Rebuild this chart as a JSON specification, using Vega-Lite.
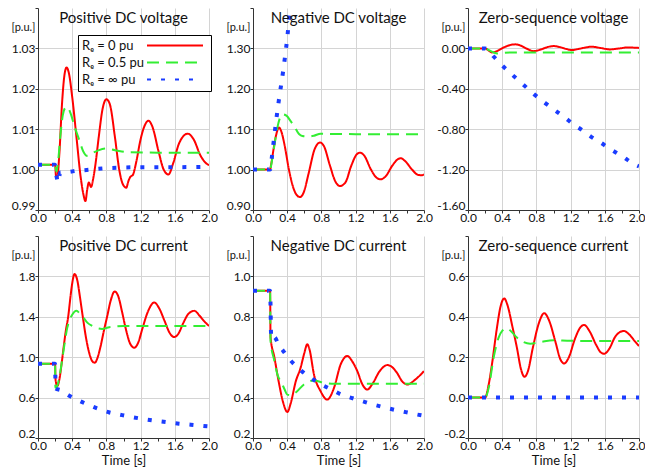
{
"$schema": "https://vega.github.io/schema/vega-lite/v6.json",
"padding": {"left": 11, "top": 7, "right": 0, "bottom": 0},
"config": {
 "font": "Lato",
 "view": {"stroke": null},
 "axis": {"domainColor": "#333333", "domainWidth": 1, "tickColor": "#333333", "tickSize": 3, "labelFontSize": 12, "labelColor": "#111111", "gridColor": "#d4d4d4", "titleFontSize": 13, "titleFontWeight": "normal", "titleColor": "#111111"},
 "axisX": {"labelPadding": -1, "labelFlush": false, "titlePadding": 3},
 "axisY": {"labelPadding": 0, "labelFlush": true, "labelFlushOffset": 2},
 "title": {"fontSize": 15, "fontWeight": "normal", "color": "#111111", "anchor": "middle", "frame": "group", "baseline": "alphabetic", "offset": -18},
 "legend": {"strokeWidth": 1}
},
"spacing": {"row": 26, "column": 44},
"bounds": "flush",
"columns": 3,
"resolve": {"scale": {"color": "independent", "strokeDash": "independent"}, "legend": {"color": "independent", "strokeDash": "independent"}},
"datasets": {"d": [
{"p":1,"Re":"0","t":0,"v":1.0012},{"p":1,"Re":"0","t":0.2,"v":1.0012},{"p":1,"Re":"0","t":0.21,"v":0.9985},{"p":1,"Re":"0","t":0.225,"v":0.998},{"p":1,"Re":"0","t":0.25,"v":1.004},{"p":1,"Re":"0","t":0.28,"v":1.016},{"p":1,"Re":"0","t":0.31,"v":1.0235},{"p":1,"Re":"0","t":0.335,"v":1.0253},{"p":1,"Re":"0","t":0.36,"v":1.024},{"p":1,"Re":"0","t":0.4,"v":1.018},{"p":1,"Re":"0","t":0.45,"v":1.008},{"p":1,"Re":"0","t":0.5,"v":0.998},{"p":1,"Re":"0","t":0.53,"v":0.994},{"p":1,"Re":"0","t":0.555,"v":0.9922},{"p":1,"Re":"0","t":0.575,"v":0.995},{"p":1,"Re":"0","t":0.594,"v":0.9968},{"p":1,"Re":"0","t":0.621,"v":0.9957},{"p":1,"Re":"0","t":0.645,"v":0.9977},{"p":1,"Re":"0","t":0.672,"v":1.0013},{"p":1,"Re":"0","t":0.71,"v":1.008},{"p":1,"Re":"0","t":0.755,"v":1.015},{"p":1,"Re":"0","t":0.8,"v":1.0174},{"p":1,"Re":"0","t":0.84,"v":1.0162},{"p":1,"Re":"0","t":0.9,"v":1.008},{"p":1,"Re":"0","t":0.95,"v":1.0},{"p":1,"Re":"0","t":0.99,"v":0.9965},{"p":1,"Re":"0","t":1.033,"v":0.9955},{"p":1,"Re":"0","t":1.055,"v":0.997},{"p":1,"Re":"0","t":1.08,"v":0.9982},{"p":1,"Re":"0","t":1.11,"v":0.9987},{"p":1,"Re":"0","t":1.15,"v":1.002},{"p":1,"Re":"0","t":1.196,"v":1.0071},{"p":1,"Re":"0","t":1.24,"v":1.0105},{"p":1,"Re":"0","t":1.293,"v":1.0121},{"p":1,"Re":"0","t":1.34,"v":1.0105},{"p":1,"Re":"0","t":1.41,"v":1.0045},{"p":1,"Re":"0","t":1.47,"v":1.0},{"p":1,"Re":"0","t":1.526,"v":0.9988},{"p":1,"Re":"0","t":1.58,"v":1.0015},{"p":1,"Re":"0","t":1.65,"v":1.0065},{"p":1,"Re":"0","t":1.751,"v":1.0089},{"p":1,"Re":"0","t":1.82,"v":1.0075},{"p":1,"Re":"0","t":1.9,"v":1.0035},{"p":1,"Re":"0","t":1.96,"v":1.0017},{"p":1,"Re":"0","t":2.0,"v":1.0011},
{"p":1,"Re":"0.5","t":0,"v":1.0012},{"p":1,"Re":"0.5","t":0.2,"v":1.0012},{"p":1,"Re":"0.5","t":0.215,"v":0.9995},{"p":1,"Re":"0.5","t":0.235,"v":1.002},{"p":1,"Re":"0.5","t":0.26,"v":1.008},{"p":1,"Re":"0.5","t":0.29,"v":1.0135},{"p":1,"Re":"0.5","t":0.32,"v":1.0153},{"p":1,"Re":"0.5","t":0.345,"v":1.0155},{"p":1,"Re":"0.5","t":0.38,"v":1.014},{"p":1,"Re":"0.5","t":0.43,"v":1.0105},{"p":1,"Re":"0.5","t":0.48,"v":1.0075},{"p":1,"Re":"0.5","t":0.53,"v":1.0045},{"p":1,"Re":"0.5","t":0.575,"v":1.0034},{"p":1,"Re":"0.5","t":0.63,"v":1.004},{"p":1,"Re":"0.5","t":0.7,"v":1.0047},{"p":1,"Re":"0.5","t":0.79,"v":1.0052},{"p":1,"Re":"0.5","t":0.9,"v":1.0048},{"p":1,"Re":"0.5","t":1.05,"v":1.0043},{"p":1,"Re":"0.5","t":1.4,"v":1.0042},{"p":1,"Re":"0.5","t":2.0,"v":1.0042},
{"p":1,"Re":"∞","t":0,"v":1.0012},{"p":1,"Re":"∞","t":0.2,"v":1.0012},{"p":1,"Re":"∞","t":0.205,"v":0.9993},{"p":1,"Re":"∞","t":0.215,"v":0.9985},{"p":1,"Re":"∞","t":0.235,"v":0.9968},{"p":1,"Re":"∞","t":0.26,"v":0.9993},{"p":1,"Re":"∞","t":0.35,"v":0.9994},{"p":1,"Re":"∞","t":0.45,"v":0.9997},{"p":1,"Re":"∞","t":0.57,"v":0.9999},{"p":1,"Re":"∞","t":0.7,"v":1.0002},{"p":1,"Re":"∞","t":0.97,"v":1.0005},{"p":1,"Re":"∞","t":1.2,"v":1.0006},{"p":1,"Re":"∞","t":1.6,"v":1.0006},{"p":1,"Re":"∞","t":2.0,"v":1.0007},
{"p":2,"Re":"0","t":0,"v":1.0},{"p":2,"Re":"0","t":0.2,"v":1.0},{"p":2,"Re":"0","t":0.21,"v":1.01},{"p":2,"Re":"0","t":0.24,"v":1.05},{"p":2,"Re":"0","t":0.27,"v":1.085},{"p":2,"Re":"0","t":0.304,"v":1.104},{"p":2,"Re":"0","t":0.33,"v":1.095},{"p":2,"Re":"0","t":0.37,"v":1.06},{"p":2,"Re":"0","t":0.42,"v":1.0},{"p":2,"Re":"0","t":0.48,"v":0.95},{"p":2,"Re":"0","t":0.52,"v":0.935},{"p":2,"Re":"0","t":0.55,"v":0.932},{"p":2,"Re":"0","t":0.59,"v":0.942},{"p":2,"Re":"0","t":0.65,"v":0.99},{"p":2,"Re":"0","t":0.72,"v":1.05},{"p":2,"Re":"0","t":0.784,"v":1.067},{"p":2,"Re":"0","t":0.83,"v":1.058},{"p":2,"Re":"0","t":0.9,"v":1.01},{"p":2,"Re":"0","t":0.96,"v":0.972},{"p":2,"Re":"0","t":1.017,"v":0.9595},{"p":2,"Re":"0","t":1.08,"v":0.968},{"p":2,"Re":"0","t":1.15,"v":1.01},{"p":2,"Re":"0","t":1.21,"v":1.037},{"p":2,"Re":"0","t":1.251,"v":1.042},{"p":2,"Re":"0","t":1.3,"v":1.035},{"p":2,"Re":"0","t":1.38,"v":1.0},{"p":2,"Re":"0","t":1.44,"v":0.981},{"p":2,"Re":"0","t":1.493,"v":0.976},{"p":2,"Re":"0","t":1.55,"v":0.983},{"p":2,"Re":"0","t":1.63,"v":1.01},{"p":2,"Re":"0","t":1.69,"v":1.025},{"p":2,"Re":"0","t":1.727,"v":1.028},{"p":2,"Re":"0","t":1.78,"v":1.021},{"p":2,"Re":"0","t":1.86,"v":1.0},{"p":2,"Re":"0","t":1.93,"v":0.987},{"p":2,"Re":"0","t":1.97,"v":0.986},{"p":2,"Re":"0","t":2.0,"v":0.988},
{"p":2,"Re":"0.5","t":0,"v":1.0},{"p":2,"Re":"0.5","t":0.2,"v":1.0},{"p":2,"Re":"0.5","t":0.22,"v":1.02},{"p":2,"Re":"0.5","t":0.25,"v":1.06},{"p":2,"Re":"0.5","t":0.285,"v":1.104},{"p":2,"Re":"0.5","t":0.31,"v":1.125},{"p":2,"Re":"0.5","t":0.343,"v":1.137},{"p":2,"Re":"0.5","t":0.394,"v":1.133},{"p":2,"Re":"0.5","t":0.44,"v":1.12},{"p":2,"Re":"0.5","t":0.48,"v":1.108},{"p":2,"Re":"0.5","t":0.538,"v":1.088},{"p":2,"Re":"0.5","t":0.577,"v":1.083},{"p":2,"Re":"0.5","t":0.65,"v":1.082},{"p":2,"Re":"0.5","t":0.713,"v":1.084},{"p":2,"Re":"0.5","t":0.79,"v":1.089},{"p":2,"Re":"0.5","t":0.9,"v":1.088},{"p":2,"Re":"0.5","t":2.0,"v":1.0875},
{"p":2,"Re":"∞","t":0,"v":1.0},{"p":2,"Re":"∞","t":0.2,"v":1.0},{"p":2,"Re":"∞","t":0.22,"v":1.03},{"p":2,"Re":"∞","t":0.25,"v":1.085},{"p":2,"Re":"∞","t":0.3,"v":1.168},{"p":2,"Re":"∞","t":0.35,"v":1.24},{"p":2,"Re":"∞","t":0.4,"v":1.325},{"p":2,"Re":"∞","t":0.435,"v":1.4},{"p":2,"Re":"∞","t":0.47,"v":1.46},
{"p":3,"Re":"0","t":0,"v":0},{"p":3,"Re":"0","t":0.2,"v":0},{"p":3,"Re":"0","t":0.24,"v":-0.02},{"p":3,"Re":"0","t":0.28,"v":-0.04},{"p":3,"Re":"0","t":0.33,"v":-0.03},{"p":3,"Re":"0","t":0.42,"v":0.01},{"p":3,"Re":"0","t":0.5,"v":0.035},{"p":3,"Re":"0","t":0.553,"v":0.04},{"p":3,"Re":"0","t":0.61,"v":0.03},{"p":3,"Re":"0","t":0.68,"v":0.0},{"p":3,"Re":"0","t":0.767,"v":-0.027},{"p":3,"Re":"0","t":0.86,"v":-0.008},{"p":3,"Re":"0","t":0.93,"v":0.013},{"p":3,"Re":"0","t":1.0,"v":0.023},{"p":3,"Re":"0","t":1.08,"v":0.012},{"p":3,"Re":"0","t":1.15,"v":-0.006},{"p":3,"Re":"0","t":1.214,"v":-0.017},{"p":3,"Re":"0","t":1.3,"v":-0.004},{"p":3,"Re":"0","t":1.38,"v":0.01},{"p":3,"Re":"0","t":1.447,"v":0.017},{"p":3,"Re":"0","t":1.55,"v":0.004},{"p":3,"Re":"0","t":1.66,"v":-0.01},{"p":3,"Re":"0","t":1.77,"v":0.0},{"p":3,"Re":"0","t":1.876,"v":0.01},{"p":3,"Re":"0","t":1.95,"v":0.007},{"p":3,"Re":"0","t":2.0,"v":0.005},
{"p":3,"Re":"0.5","t":0,"v":0},{"p":3,"Re":"0.5","t":0.2,"v":0},{"p":3,"Re":"0.5","t":0.25,"v":-0.02},{"p":3,"Re":"0.5","t":0.3,"v":-0.04},{"p":3,"Re":"0.5","t":0.34,"v":-0.05},{"p":3,"Re":"0.5","t":0.4,"v":-0.046},{"p":3,"Re":"0.5","t":0.5,"v":-0.04},{"p":3,"Re":"0.5","t":0.7,"v":-0.04},{"p":3,"Re":"0.5","t":2.0,"v":-0.04},
{"p":3,"Re":"∞","t":0,"v":0},{"p":3,"Re":"∞","t":0.2,"v":0},{"p":3,"Re":"∞","t":0.25,"v":-0.03},{"p":3,"Re":"∞","t":0.3,"v":-0.08},{"p":3,"Re":"∞","t":0.358,"v":-0.133},{"p":3,"Re":"∞","t":0.502,"v":-0.249},{"p":3,"Re":"∞","t":0.642,"v":-0.355},{"p":3,"Re":"∞","t":0.774,"v":-0.455},{"p":3,"Re":"∞","t":0.903,"v":-0.541},{"p":3,"Re":"∞","t":1.019,"v":-0.614},{"p":3,"Re":"∞","t":1.136,"v":-0.687},{"p":3,"Re":"∞","t":1.241,"v":-0.757},{"p":3,"Re":"∞","t":1.342,"v":-0.813},{"p":3,"Re":"∞","t":1.436,"v":-0.873},{"p":3,"Re":"∞","t":1.545,"v":-0.929},{"p":3,"Re":"∞","t":1.65,"v":-0.989},{"p":3,"Re":"∞","t":1.739,"v":-1.036},{"p":3,"Re":"∞","t":1.825,"v":-1.079},{"p":3,"Re":"∞","t":1.907,"v":-1.129},{"p":3,"Re":"∞","t":2.0,"v":-1.168},
{"p":4,"Re":"0","t":0,"v":0.935},{"p":4,"Re":"0","t":0.2,"v":0.935},{"p":4,"Re":"0","t":0.205,"v":0.78},{"p":4,"Re":"0","t":0.225,"v":0.713},{"p":4,"Re":"0","t":0.25,"v":0.78},{"p":4,"Re":"0","t":0.276,"v":0.935},{"p":4,"Re":"0","t":0.3,"v":1.1},{"p":4,"Re":"0","t":0.325,"v":1.26},{"p":4,"Re":"0","t":0.353,"v":1.4},{"p":4,"Re":"0","t":0.38,"v":1.6},{"p":4,"Re":"0","t":0.4,"v":1.73},{"p":4,"Re":"0","t":0.427,"v":1.823},{"p":4,"Re":"0","t":0.46,"v":1.76},{"p":4,"Re":"0","t":0.49,"v":1.6},{"p":4,"Re":"0","t":0.524,"v":1.4},{"p":4,"Re":"0","t":0.56,"v":1.2},{"p":4,"Re":"0","t":0.6,"v":1.04},{"p":4,"Re":"0","t":0.635,"v":0.96},{"p":4,"Re":"0","t":0.664,"v":0.945},{"p":4,"Re":"0","t":0.69,"v":0.98},{"p":4,"Re":"0","t":0.73,"v":1.1},{"p":4,"Re":"0","t":0.77,"v":1.26},{"p":4,"Re":"0","t":0.808,"v":1.4},{"p":4,"Re":"0","t":0.85,"v":1.56},{"p":4,"Re":"0","t":0.897,"v":1.651},{"p":4,"Re":"0","t":0.94,"v":1.6},{"p":4,"Re":"0","t":0.983,"v":1.45},{"p":4,"Re":"0","t":1.03,"v":1.27},{"p":4,"Re":"0","t":1.08,"v":1.13},{"p":4,"Re":"0","t":1.126,"v":1.094},{"p":4,"Re":"0","t":1.17,"v":1.14},{"p":4,"Re":"0","t":1.22,"v":1.28},{"p":4,"Re":"0","t":1.28,"v":1.44},{"p":4,"Re":"0","t":1.359,"v":1.541},{"p":4,"Re":"0","t":1.42,"v":1.48},{"p":4,"Re":"0","t":1.48,"v":1.36},{"p":4,"Re":"0","t":1.54,"v":1.24},{"p":4,"Re":"0","t":1.592,"v":1.2},{"p":4,"Re":"0","t":1.64,"v":1.23},{"p":4,"Re":"0","t":1.7,"v":1.34},{"p":4,"Re":"0","t":1.76,"v":1.43},{"p":4,"Re":"0","t":1.829,"v":1.459},{"p":4,"Re":"0","t":1.89,"v":1.41},{"p":4,"Re":"0","t":1.95,"v":1.35},{"p":4,"Re":"0","t":2.0,"v":1.31},
{"p":4,"Re":"0.5","t":0,"v":0.935},{"p":4,"Re":"0.5","t":0.2,"v":0.935},{"p":4,"Re":"0.5","t":0.203,"v":0.697},{"p":4,"Re":"0.5","t":0.215,"v":0.7},{"p":4,"Re":"0.5","t":0.245,"v":0.78},{"p":4,"Re":"0.5","t":0.28,"v":0.96},{"p":4,"Re":"0.5","t":0.31,"v":1.13},{"p":4,"Re":"0.5","t":0.342,"v":1.29},{"p":4,"Re":"0.5","t":0.37,"v":1.37},{"p":4,"Re":"0.5","t":0.4,"v":1.42},{"p":4,"Re":"0.5","t":0.45,"v":1.459},{"p":4,"Re":"0.5","t":0.49,"v":1.43},{"p":4,"Re":"0.5","t":0.536,"v":1.386},{"p":4,"Re":"0.5","t":0.58,"v":1.34},{"p":4,"Re":"0.5","t":0.633,"v":1.31},{"p":4,"Re":"0.5","t":0.7,"v":1.285},{"p":4,"Re":"0.5","t":0.75,"v":1.28},{"p":4,"Re":"0.5","t":0.82,"v":1.295},{"p":4,"Re":"0.5","t":0.905,"v":1.303},{"p":4,"Re":"0.5","t":1.0,"v":1.31},{"p":4,"Re":"0.5","t":2.0,"v":1.31},
{"p":4,"Re":"∞","t":0,"v":0.935},{"p":4,"Re":"∞","t":0.2,"v":0.935},{"p":4,"Re":"∞","t":0.203,"v":0.8},{"p":4,"Re":"∞","t":0.206,"v":0.69},{"p":4,"Re":"∞","t":0.264,"v":0.674},{"p":4,"Re":"∞","t":0.361,"v":0.621},{"p":4,"Re":"∞","t":0.47,"v":0.574},{"p":4,"Re":"∞","t":0.583,"v":0.531},{"p":4,"Re":"∞","t":0.699,"v":0.491},{"p":4,"Re":"∞","t":0.827,"v":0.455},{"p":4,"Re":"∞","t":0.955,"v":0.432},{"p":4,"Re":"∞","t":1.087,"v":0.409},{"p":4,"Re":"∞","t":1.223,"v":0.389},{"p":4,"Re":"∞","t":1.359,"v":0.372},{"p":4,"Re":"∞","t":1.507,"v":0.356},{"p":4,"Re":"∞","t":1.65,"v":0.342},{"p":4,"Re":"∞","t":1.786,"v":0.332},{"p":4,"Re":"∞","t":1.934,"v":0.319},{"p":4,"Re":"∞","t":2.0,"v":0.314},
{"p":5,"Re":"0","t":0,"v":0.929},{"p":5,"Re":"0","t":0.2,"v":0.929},{"p":5,"Re":"0","t":0.205,"v":0.7},{"p":5,"Re":"0","t":0.25,"v":0.6},{"p":5,"Re":"0","t":0.3,"v":0.48},{"p":5,"Re":"0","t":0.35,"v":0.38},{"p":5,"Re":"0","t":0.402,"v":0.329},{"p":5,"Re":"0","t":0.44,"v":0.37},{"p":5,"Re":"0","t":0.5,"v":0.48},{"p":5,"Re":"0","t":0.557,"v":0.548},{"p":5,"Re":"0","t":0.6,"v":0.62},{"p":5,"Re":"0","t":0.635,"v":0.664},{"p":5,"Re":"0","t":0.66,"v":0.64},{"p":5,"Re":"0","t":0.713,"v":0.515},{"p":5,"Re":"0","t":0.79,"v":0.432},{"p":5,"Re":"0","t":0.869,"v":0.39},{"p":5,"Re":"0","t":0.947,"v":0.448},{"p":5,"Re":"0","t":1.025,"v":0.564},{"p":5,"Re":"0","t":1.103,"v":0.606},{"p":5,"Re":"0","t":1.16,"v":0.58},{"p":5,"Re":"0","t":1.22,"v":0.531},{"p":5,"Re":"0","t":1.28,"v":0.465},{"p":5,"Re":"0","t":1.337,"v":0.44},{"p":5,"Re":"0","t":1.4,"v":0.47},{"p":5,"Re":"0","t":1.48,"v":0.53},{"p":5,"Re":"0","t":1.571,"v":0.561},{"p":5,"Re":"0","t":1.63,"v":0.55},{"p":5,"Re":"0","t":1.688,"v":0.52},{"p":5,"Re":"0","t":1.745,"v":0.48},{"p":5,"Re":"0","t":1.805,"v":0.465},{"p":5,"Re":"0","t":1.9,"v":0.49},{"p":5,"Re":"0","t":2.0,"v":0.531},
{"p":5,"Re":"0.5","t":0,"v":0.929},{"p":5,"Re":"0.5","t":0.2,"v":0.929},{"p":5,"Re":"0.5","t":0.205,"v":0.68},{"p":5,"Re":"0.5","t":0.246,"v":0.589},{"p":5,"Re":"0.5","t":0.285,"v":0.515},{"p":5,"Re":"0.5","t":0.335,"v":0.473},{"p":5,"Re":"0.5","t":0.37,"v":0.44},{"p":5,"Re":"0.5","t":0.4,"v":0.415},{"p":5,"Re":"0.5","t":0.44,"v":0.412},{"p":5,"Re":"0.5","t":0.5,"v":0.425},{"p":5,"Re":"0.5","t":0.596,"v":0.465},{"p":5,"Re":"0.5","t":0.713,"v":0.485},{"p":5,"Re":"0.5","t":0.83,"v":0.473},{"p":5,"Re":"0.5","t":0.95,"v":0.468},{"p":5,"Re":"0.5","t":2.0,"v":0.468},
{"p":5,"Re":"∞","t":0,"v":0.929},{"p":5,"Re":"∞","t":0.2,"v":0.929},{"p":5,"Re":"∞","t":0.205,"v":0.86},{"p":5,"Re":"∞","t":0.21,"v":0.73},{"p":5,"Re":"∞","t":0.215,"v":0.69},{"p":5,"Re":"∞","t":0.246,"v":0.7},{"p":5,"Re":"∞","t":0.304,"v":0.659},{"p":5,"Re":"∞","t":0.37,"v":0.622},{"p":5,"Re":"∞","t":0.44,"v":0.584},{"p":5,"Re":"∞","t":0.526,"v":0.548},{"p":5,"Re":"∞","t":0.616,"v":0.515},{"p":5,"Re":"∞","t":0.713,"v":0.487},{"p":5,"Re":"∞","t":0.811,"v":0.462},{"p":5,"Re":"∞","t":0.916,"v":0.44},{"p":5,"Re":"∞","t":1.033,"v":0.415},{"p":5,"Re":"∞","t":1.15,"v":0.399},{"p":5,"Re":"∞","t":1.279,"v":0.382},{"p":5,"Re":"∞","t":1.403,"v":0.366},{"p":5,"Re":"∞","t":1.532,"v":0.352},{"p":5,"Re":"∞","t":1.661,"v":0.339},{"p":5,"Re":"∞","t":1.786,"v":0.328},{"p":5,"Re":"∞","t":1.922,"v":0.316},{"p":5,"Re":"∞","t":2.0,"v":0.31},
{"p":6,"Re":"0","t":0,"v":0},{"p":6,"Re":"0","t":0.2,"v":0},{"p":6,"Re":"0","t":0.24,"v":0.06},{"p":6,"Re":"0","t":0.28,"v":0.164},{"p":6,"Re":"0","t":0.339,"v":0.347},{"p":6,"Re":"0","t":0.38,"v":0.45},{"p":6,"Re":"0","t":0.424,"v":0.491},{"p":6,"Re":"0","t":0.46,"v":0.46},{"p":6,"Re":"0","t":0.52,"v":0.35},{"p":6,"Re":"0","t":0.572,"v":0.247},{"p":6,"Re":"0","t":0.62,"v":0.14},{"p":6,"Re":"0","t":0.661,"v":0.103},{"p":6,"Re":"0","t":0.7,"v":0.13},{"p":6,"Re":"0","t":0.76,"v":0.25},{"p":6,"Re":"0","t":0.83,"v":0.37},{"p":6,"Re":"0","t":0.891,"v":0.418},{"p":6,"Re":"0","t":0.95,"v":0.38},{"p":6,"Re":"0","t":1.02,"v":0.28},{"p":6,"Re":"0","t":1.08,"v":0.19},{"p":6,"Re":"0","t":1.124,"v":0.169},{"p":6,"Re":"0","t":1.18,"v":0.2},{"p":6,"Re":"0","t":1.25,"v":0.29},{"p":6,"Re":"0","t":1.31,"v":0.345},{"p":6,"Re":"0","t":1.358,"v":0.36},{"p":6,"Re":"0","t":1.42,"v":0.33},{"p":6,"Re":"0","t":1.5,"v":0.26},{"p":6,"Re":"0","t":1.55,"v":0.225},{"p":6,"Re":"0","t":1.591,"v":0.217},{"p":6,"Re":"0","t":1.65,"v":0.24},{"p":6,"Re":"0","t":1.72,"v":0.3},{"p":6,"Re":"0","t":1.78,"v":0.325},{"p":6,"Re":"0","t":1.825,"v":0.33},{"p":6,"Re":"0","t":1.88,"v":0.315},{"p":6,"Re":"0","t":1.95,"v":0.28},{"p":6,"Re":"0","t":2.0,"v":0.255},
{"p":6,"Re":"0.5","t":0,"v":0},{"p":6,"Re":"0.5","t":0.2,"v":0},{"p":6,"Re":"0.5","t":0.241,"v":0.046},{"p":6,"Re":"0.5","t":0.3,"v":0.198},{"p":6,"Re":"0.5","t":0.358,"v":0.297},{"p":6,"Re":"0.5","t":0.4,"v":0.33},{"p":6,"Re":"0.5","t":0.455,"v":0.343},{"p":6,"Re":"0.5","t":0.5,"v":0.33},{"p":6,"Re":"0.5","t":0.572,"v":0.297},{"p":6,"Re":"0.5","t":0.65,"v":0.275},{"p":6,"Re":"0.5","t":0.728,"v":0.267},{"p":6,"Re":"0.5","t":0.85,"v":0.275},{"p":6,"Re":"0.5","t":1.0,"v":0.284},{"p":6,"Re":"0.5","t":1.2,"v":0.281},{"p":6,"Re":"0.5","t":2.0,"v":0.28},
{"p":6,"Re":"∞","t":0,"v":0},{"p":6,"Re":"∞","t":1.0,"v":0},{"p":6,"Re":"∞","t":2.0,"v":0}
]},
"concat": [
{"width": 171, "height": 202, "title": "Positive DC voltage", "data": {"name": "d"}, "transform": [{"filter": "datum.p == 1"}],
 "mark": {"type": "line", "interpolate": "monotone", "clip": true},
 "encoding": {
  "x": {"field": "t", "type": "quantitative", "scale": {"domain": [0, 2], "nice": false}, "axis": {"title": null, "values": [0,0.2,0.4,0.6,0.8,1,1.2,1.4,1.6,1.8,2], "labelExpr": "round(datum.value*10) % 4 == 0 ? format(datum.value, '.1f') : ''", "gridColor": {"condition": {"test": "round(datum.value*10) % 4 == 0 && datum.value > 0", "value": "#d4d4d4"}, "value": "transparent"}}},
  "y": {"field": "v", "type": "quantitative", "scale": {"domain": [0.99, 1.04], "nice": false, "zero": false}, "axis": {"title": null, "values": [0.99,1,1.01,1.02,1.03,1.04], "labelExpr": "datum.value > 1.035 ? '[p.u.]' : format(datum.value, '.2f')", "labelOffset": {"condition": {"test": "datum.value > 1.035", "value": 15}, "value": 0}, "labelFontSize": {"condition": {"test": "datum.value > 1.035", "value": 11}, "value": 12}, "gridColor": {"condition": {"test": "datum.value > 1.035", "value": "transparent"}, "value": "#d4d4d4"}}},
  "color": {"field": "Re", "type": "nominal", "scale": {"domain": ["0","0.5","∞"], "range": ["#ff0000","#33ee33","#1a3cff"]}, "legend": {"orient": "none", "legendX": 40, "legendY": 27, "title": null, "labelExpr": "'Rₑ = ' + datum.label + ' pu'", "symbolType": "M-5.6,0H5.6", "symbolSize": 100, "symbolStrokeWidth": 2, "rowPadding": 3, "labelOffset": -99.5, "symbolOffset": 86.5, "labelFontSize": 13, "labelColor": "#111111", "padding": 4, "strokeColor": "black", "fillColor": "white"}},
  "strokeDash": {"field": "Re", "type": "nominal", "scale": {"domain": ["0","0.5","∞"], "range": [[1,0],[12,7],[4,10]]}, "legend": {"orient": "none", "legendX": 40, "legendY": 27, "title": null, "labelExpr": "'Rₑ = ' + datum.label + ' pu'", "symbolType": "M-5.6,0H5.6", "symbolSize": 100, "symbolStrokeWidth": 2, "rowPadding": 3, "labelOffset": -99.5, "symbolOffset": 86.5, "labelFontSize": 13, "labelColor": "#111111", "padding": 4, "strokeColor": "black", "fillColor": "white"}},
  "strokeWidth": {"condition": {"test": "datum.Re == '∞'", "value": 4}, "value": 2}
 }},
{"width": 171, "height": 202, "title": "Negative DC voltage", "data": {"name": "d"}, "transform": [{"filter": "datum.p == 2"}],
 "mark": {"type": "line", "interpolate": "monotone", "clip": true},
 "encoding": {
  "x": {"field": "t", "type": "quantitative", "scale": {"domain": [0, 2], "nice": false}, "axis": {"title": null, "values": [0,0.2,0.4,0.6,0.8,1,1.2,1.4,1.6,1.8,2], "labelExpr": "round(datum.value*10) % 4 == 0 ? format(datum.value, '.1f') : ''", "gridColor": {"condition": {"test": "round(datum.value*10) % 4 == 0 && datum.value > 0", "value": "#d4d4d4"}, "value": "transparent"}}},
  "y": {"field": "v", "type": "quantitative", "scale": {"domain": [0.9, 1.4], "nice": false, "zero": false}, "axis": {"title": null, "values": [0.9,1,1.1,1.2,1.3,1.4], "labelExpr": "datum.value > 1.35 ? '[p.u.]' : format(datum.value, '.2f')", "labelOffset": {"condition": {"test": "datum.value > 1.35", "value": 15}, "value": 0}, "labelFontSize": {"condition": {"test": "datum.value > 1.35", "value": 11}, "value": 12}, "gridColor": {"condition": {"test": "datum.value > 1.35", "value": "transparent"}, "value": "#d4d4d4"}}},
  "color": {"field": "Re", "type": "nominal", "scale": {"domain": ["0","0.5","∞"], "range": ["#ff0000","#33ee33","#1a3cff"]}, "legend": null},
  "strokeDash": {"field": "Re", "type": "nominal", "scale": {"domain": ["0","0.5","∞"], "range": [[1,0],[12,7],[4,10]]}, "legend": null},
  "strokeWidth": {"condition": {"test": "datum.Re == '∞'", "value": 4}, "value": 2}
 }},
{"width": 171, "height": 202, "title": "Zero-sequence voltage", "data": {"name": "d"}, "transform": [{"filter": "datum.p == 3"}],
 "mark": {"type": "line", "interpolate": "monotone", "clip": true},
 "encoding": {
  "x": {"field": "t", "type": "quantitative", "scale": {"domain": [0, 2], "nice": false}, "axis": {"title": null, "values": [0,0.2,0.4,0.6,0.8,1,1.2,1.4,1.6,1.8,2], "labelExpr": "round(datum.value*10) % 4 == 0 ? format(datum.value, '.1f') : ''", "labelAlign": {"condition": {"test": "datum.value > 1.9", "value": "right"}, "value": "center"}, "labelOffset": {"condition": {"test": "datum.value > 1.9", "value": 6}, "value": 0}, "gridColor": {"condition": {"test": "round(datum.value*10) % 4 == 0 && datum.value > 0", "value": "#d4d4d4"}, "value": "transparent"}}},
  "y": {"field": "v", "type": "quantitative", "scale": {"domain": [-1.6, 0.4], "nice": false, "zero": false}, "axis": {"title": null, "values": [-1.6,-1.2,-0.8,-0.4,0,0.4], "labelExpr": "datum.value > 0.2 ? '[p.u.]' : replace(format(datum.value, '.2f'), '−', '-')", "labelOffset": {"condition": {"test": "datum.value > 0.2", "value": 15}, "value": 0}, "labelFontSize": {"condition": {"test": "datum.value > 0.2", "value": 11}, "value": 12}, "gridColor": {"condition": {"test": "datum.value > 0.2", "value": "transparent"}, "value": "#d4d4d4"}}},
  "color": {"field": "Re", "type": "nominal", "scale": {"domain": ["0","0.5","∞"], "range": ["#ff0000","#33ee33","#1a3cff"]}, "legend": null},
  "strokeDash": {"field": "Re", "type": "nominal", "scale": {"domain": ["0","0.5","∞"], "range": [[1,0],[12,7],[4,10]]}, "legend": null},
  "strokeWidth": {"condition": {"test": "datum.Re == '∞'", "value": 4}, "value": 2}
 }},
{"width": 171, "height": 202, "title": "Positive DC current", "data": {"name": "d"}, "transform": [{"filter": "datum.p == 4"}],
 "mark": {"type": "line", "interpolate": "monotone", "clip": true},
 "encoding": {
  "x": {"field": "t", "type": "quantitative", "scale": {"domain": [0, 2], "nice": false}, "axis": {"title": "Time [s]", "values": [0,0.2,0.4,0.6,0.8,1,1.2,1.4,1.6,1.8,2], "labelExpr": "round(datum.value*10) % 4 == 0 ? format(datum.value, '.1f') : ''", "gridColor": {"condition": {"test": "round(datum.value*10) % 4 == 0 && datum.value > 0", "value": "#d4d4d4"}, "value": "transparent"}}},
  "y": {"field": "v", "type": "quantitative", "scale": {"domain": [0.2, 2.2], "nice": false, "zero": false}, "axis": {"title": null, "values": [0.2,0.6,1,1.4,1.8,2.2], "labelExpr": "datum.value > 2 ? '[p.u.]' : format(datum.value, '.1f')", "labelOffset": {"condition": {"test": "datum.value > 2", "value": 15}, "value": 0}, "labelFontSize": {"condition": {"test": "datum.value > 2", "value": 11}, "value": 12}, "gridColor": {"condition": {"test": "datum.value > 2", "value": "transparent"}, "value": "#d4d4d4"}}},
  "color": {"field": "Re", "type": "nominal", "scale": {"domain": ["0","0.5","∞"], "range": ["#ff0000","#33ee33","#1a3cff"]}, "legend": null},
  "strokeDash": {"field": "Re", "type": "nominal", "scale": {"domain": ["0","0.5","∞"], "range": [[1,0],[12,7],[4,10]]}, "legend": null},
  "strokeWidth": {"condition": {"test": "datum.Re == '∞'", "value": 4}, "value": 2}
 }},
{"width": 171, "height": 202, "title": "Negative DC current", "data": {"name": "d"}, "transform": [{"filter": "datum.p == 5"}],
 "mark": {"type": "line", "interpolate": "monotone", "clip": true},
 "encoding": {
  "x": {"field": "t", "type": "quantitative", "scale": {"domain": [0, 2], "nice": false}, "axis": {"title": "Time [s]", "values": [0,0.2,0.4,0.6,0.8,1,1.2,1.4,1.6,1.8,2], "labelExpr": "round(datum.value*10) % 4 == 0 ? format(datum.value, '.1f') : ''", "gridColor": {"condition": {"test": "round(datum.value*10) % 4 == 0 && datum.value > 0", "value": "#d4d4d4"}, "value": "transparent"}}},
  "y": {"field": "v", "type": "quantitative", "scale": {"domain": [0.2, 1.2], "nice": false, "zero": false}, "axis": {"title": null, "values": [0.2,0.4,0.6,0.8,1,1.2], "labelExpr": "datum.value > 1.1 ? '[p.u.]' : format(datum.value, '.1f')", "labelOffset": {"condition": {"test": "datum.value > 1.1", "value": 15}, "value": 0}, "labelFontSize": {"condition": {"test": "datum.value > 1.1", "value": 11}, "value": 12}, "gridColor": {"condition": {"test": "datum.value > 1.1", "value": "transparent"}, "value": "#d4d4d4"}}},
  "color": {"field": "Re", "type": "nominal", "scale": {"domain": ["0","0.5","∞"], "range": ["#ff0000","#33ee33","#1a3cff"]}, "legend": null},
  "strokeDash": {"field": "Re", "type": "nominal", "scale": {"domain": ["0","0.5","∞"], "range": [[1,0],[12,7],[4,10]]}, "legend": null},
  "strokeWidth": {"condition": {"test": "datum.Re == '∞'", "value": 4}, "value": 2}
 }},
{"width": 171, "height": 202, "title": "Zero-sequence current", "data": {"name": "d"}, "transform": [{"filter": "datum.p == 6"}],
 "mark": {"type": "line", "interpolate": "monotone", "clip": true},
 "encoding": {
  "x": {"field": "t", "type": "quantitative", "scale": {"domain": [0, 2], "nice": false}, "axis": {"title": "Time [s]", "values": [0,0.2,0.4,0.6,0.8,1,1.2,1.4,1.6,1.8,2], "labelExpr": "round(datum.value*10) % 4 == 0 ? format(datum.value, '.1f') : ''", "labelAlign": {"condition": {"test": "datum.value > 1.9", "value": "right"}, "value": "center"}, "labelOffset": {"condition": {"test": "datum.value > 1.9", "value": 6}, "value": 0}, "gridColor": {"condition": {"test": "round(datum.value*10) % 4 == 0 && datum.value > 0", "value": "#d4d4d4"}, "value": "transparent"}}},
  "y": {"field": "v", "type": "quantitative", "scale": {"domain": [-0.2, 0.8], "nice": false, "zero": false}, "axis": {"title": null, "values": [-0.2,0,0.2,0.4,0.6,0.8], "labelExpr": "datum.value > 0.7 ? '[p.u.]' : replace(format(datum.value, '.1f'), '−', '-')", "labelOffset": {"condition": {"test": "datum.value > 0.7", "value": 15}, "value": 0}, "labelFontSize": {"condition": {"test": "datum.value > 0.7", "value": 11}, "value": 12}, "gridColor": {"condition": {"test": "datum.value > 0.7", "value": "transparent"}, "value": "#d4d4d4"}}},
  "color": {"field": "Re", "type": "nominal", "scale": {"domain": ["0","0.5","∞"], "range": ["#ff0000","#33ee33","#1a3cff"]}, "legend": null},
  "strokeDash": {"field": "Re", "type": "nominal", "scale": {"domain": ["0","0.5","∞"], "range": [[1,0],[12,7],[4,10]]}, "legend": null},
  "strokeWidth": {"condition": {"test": "datum.Re == '∞'", "value": 4}, "value": 2}
 }}
]
}
